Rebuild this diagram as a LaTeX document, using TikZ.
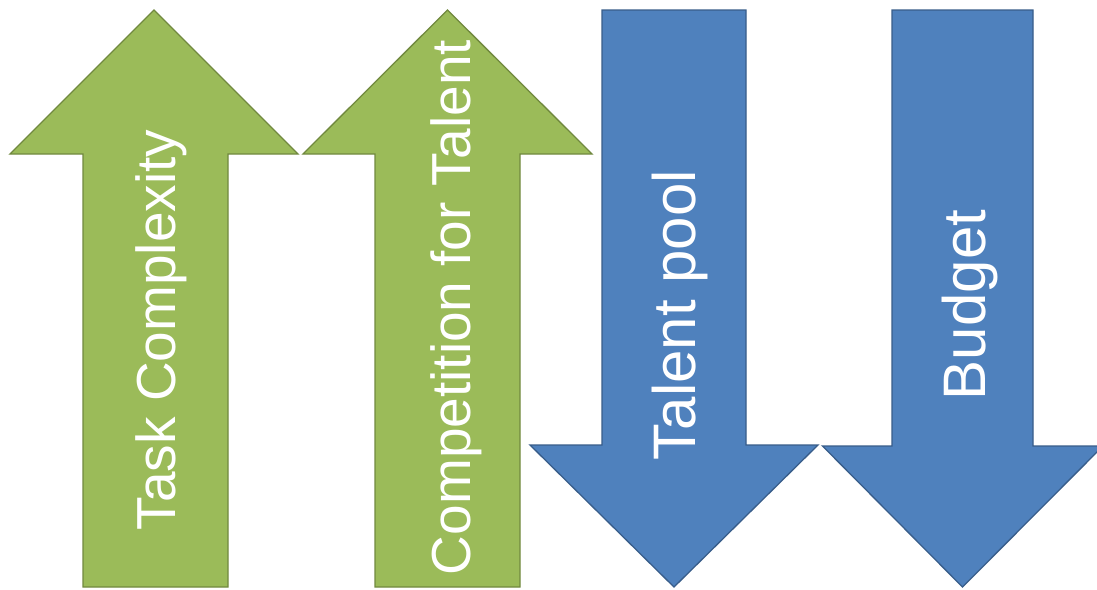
\documentclass[tikz,border=0pt]{standalone}
\usepackage{fontspec}
\setmainfont{Liberation Sans}
\definecolor{gfill}{HTML}{9BBB59}
\definecolor{gline}{HTML}{71893F}
\definecolor{bfill}{HTML}{4F81BD}
\definecolor{bline}{HTML}{385D8A}
\tikzset{
  garrow/.style={fill=gfill, draw=gline, line width=1.3pt, line join=miter},
  barrow/.style={fill=bfill, draw=bline, line width=1.3pt, line join=miter},
  glabel/.style={text=white, rotate=90, anchor=base, inner sep=0pt, font=\fontsize{55}{66}\selectfont},
  blabel/.style={text=white, rotate=90, anchor=base, inner sep=0pt, font=\fontsize{60}{72}\selectfont}
}
\begin{document}
\begin{tikzpicture}[x=1pt,y=-1pt]
\useasboundingbox (0,0) rectangle (1097,589);
\clip (0,0) rectangle (1097,589);
\fill[white] (0,0) rectangle (1097,589);
% green up arrows
\draw[garrow] (154,10) -- (298,154) -- (228,154) -- (228,587) -- (83,587) -- (83,154) -- (10,154) -- cycle;
\draw[garrow] (447.5,10) -- (592,154) -- (520,154) -- (520,587) -- (375,587) -- (375,154) -- (303,154) -- cycle;
% blue down arrows
\draw[barrow] (602,10) -- (746,10) -- (746,445) -- (818,445) -- (674,587) -- (530,445) -- (602,445) -- cycle;
\draw[barrow] (892,10) -- (1033,10) -- (1033,446) -- (1103,446) -- (962.5,587) -- (822.5,446) -- (892,446) -- cycle;
% labels
\node[glabel] (task) at (175,330) {Task Complexity};
\node[glabel] (comp) at (470,307.5) {Competition for Talent};
\node[blabel] (pool) at (695,315) {Talent pool};
\node[blabel] (budget) at (985,305) {Budget};
\end{tikzpicture}
\end{document}
